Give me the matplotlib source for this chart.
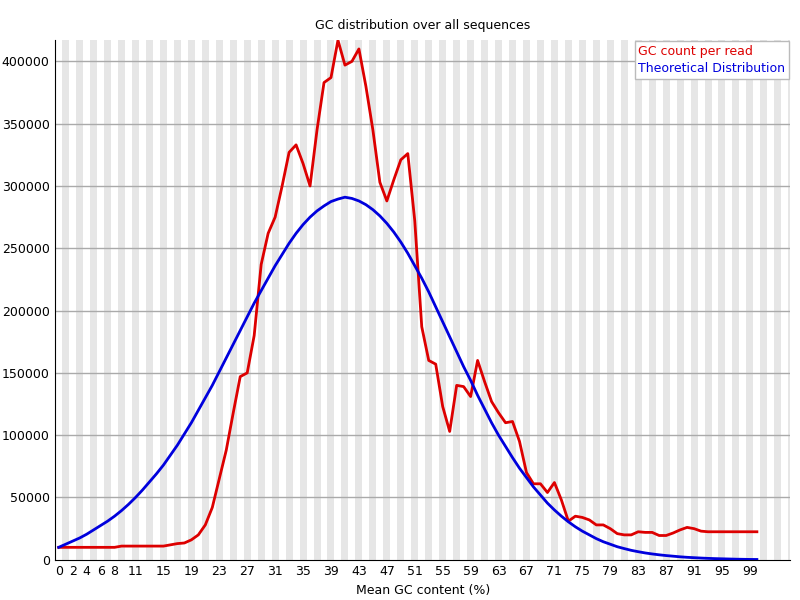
import matplotlib
matplotlib.use("Agg")
import matplotlib.pyplot as plt

gc = list(range(101))
gc_count = [10000, 10000, 10000, 10000, 10000, 10000, 10000, 10000, 10000, 11000,
            11000, 11000, 11000, 11000, 11000, 11000, 12000, 13000, 13500, 16000,
            20000, 28000, 42000, 65000, 88000, 118000, 147000, 150000, 180000, 237000,
            262000, 275000, 300000, 327000, 333000, 318000, 300000, 345000, 383000, 387000,
            417000, 397000, 400000, 410000, 380000, 345000, 303000, 288000, 305000, 321000,
            326000, 272000, 187000, 160000, 157000, 123000, 103000, 140000, 139000, 131000,
            160000, 143000, 127000, 118000, 110000, 111000, 95000, 70000, 61000, 61000,
            54000, 62000, 48000, 31000, 35000, 34000, 32000, 28000, 28000, 25000,
            21000, 20000, 20000, 22500, 22000, 22000, 19500, 19500, 21500, 24000,
            26000, 25000, 23000, 22500, 22500, 22500, 22500, 22500, 22500, 22500, 22500]
theoretical = [10000, 12500, 15000, 17500, 20500, 24000, 27500, 31000, 35000, 39500,
               44500, 50000, 56000, 62500, 69000, 76000, 84000, 92000, 101000, 110000,
               120000, 130000, 140000, 151000, 162000, 173000, 184000, 195000, 206000, 216000,
               226000, 236000, 245000, 254000, 262000, 269000, 275000, 280000, 284000, 287500,
               289500, 291000, 290000, 288000, 285000, 281000, 276000, 270000, 263000, 255000,
               246000, 236000, 226000, 215000, 203000, 191000, 179000, 167000, 155000, 144000,
               132000, 121000, 110000, 100000, 91000, 82000, 73500, 66000, 58500, 52000,
               45500, 40000, 35000, 30500, 26500, 23000, 20000, 17000, 14500, 12500,
               10500, 9000, 7600, 6500, 5500, 4700, 4000, 3400, 2900, 2400,
               2000, 1700, 1400, 1150, 950, 800, 650, 500, 400, 300, 250]
tick_labels = [0, 2, 4, 6, 8, 11, 15, 19, 23, 27, 31, 35, 39, 43, 47, 51, 55, 59,
               63, 67, 71, 75, 79, 83, 87, 91, 95, 99]

fig = plt.figure(figsize=(8, 6), dpi=100)
ax = fig.add_axes([0.069, 0.067, 0.919, 0.866])

for i in range(-1, 106):
    if i % 2 != 0:
        ax.axvspan(i - 0.5, i + 0.5, color="#e6e6e6", lw=0, zorder=0)
for y in range(50000, 450000, 50000):
    ax.axhline(y, color="#aaaaaa", lw=1, zorder=1)

ax.plot(gc, gc_count, color="#dd0000", lw=2, zorder=3)
ax.plot(gc, theoretical, color="#0000dd", lw=2, zorder=3)

ax.set_xlim(-0.5, 104.8)
ax.set_ylim(0, 417000)
ax.set_xticks(tick_labels)
ax.set_xticklabels([str(t) for t in tick_labels], fontsize=9)
ax.set_yticks(range(0, 450000, 50000))
ax.set_yticklabels([str(v) for v in range(0, 450000, 50000)], fontsize=9)
ax.tick_params(length=0, pad=4)
ax.spines["top"].set_visible(False)
ax.spines["right"].set_visible(False)
ax.set_xlabel("Mean GC content (%)", fontsize=9, labelpad=4)
ax.set_title("GC distribution over all sequences", fontsize=9, pad=8)

leg = ax.legend(["GC count per read", "Theoretical Distribution"], loc="upper right",
                fontsize=9, handlelength=0, handletextpad=0, borderaxespad=0.1,
                borderpad=0.3, labelspacing=0.3,
                fancybox=False, framealpha=1, edgecolor="#bbbbbb")
for h in leg.legend_handles:
    h.set_visible(False)
for t, c in zip(leg.get_texts(), ["#dd0000", "#0000dd"]):
    t.set_color(c)

fig.savefig("out.png", dpi=100)
